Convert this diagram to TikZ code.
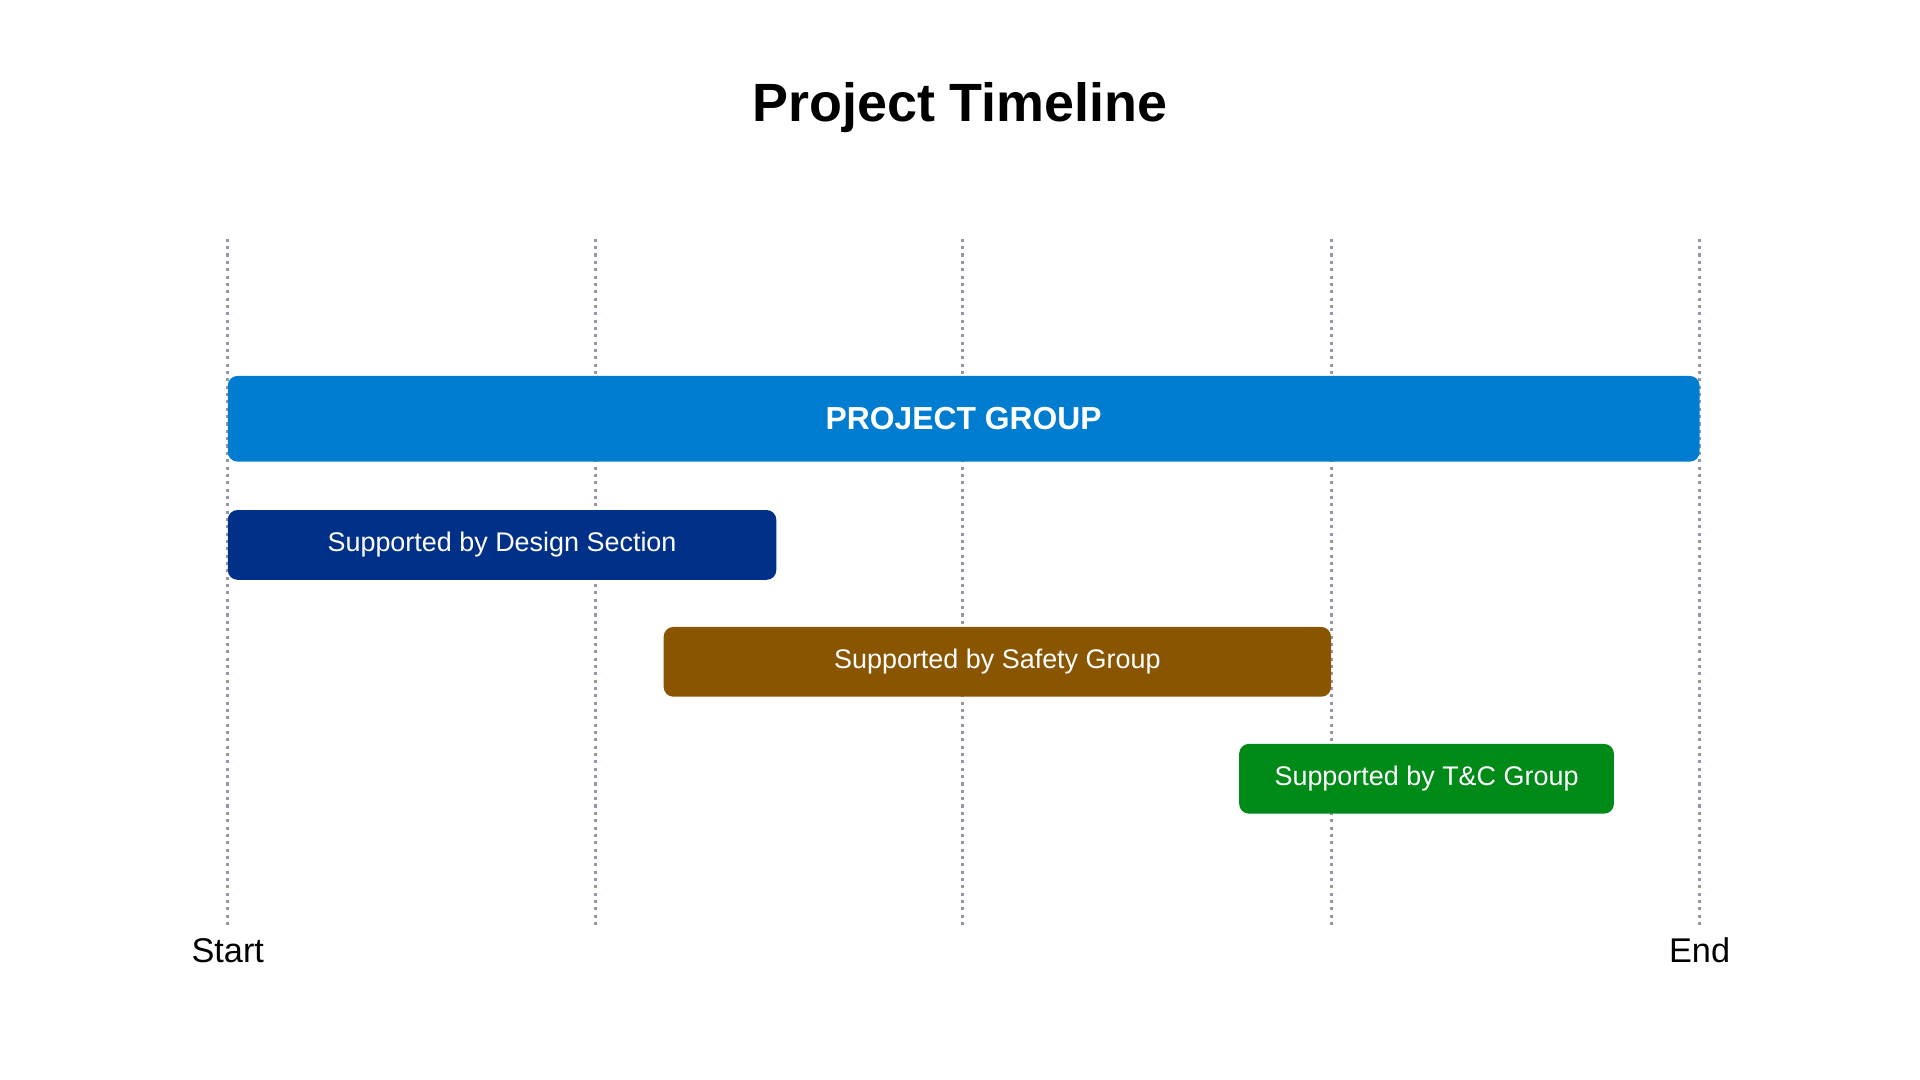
\documentclass[tikz,border=0pt]{standalone}
\usepackage{fontspec}
\setmainfont{Liberation Sans}
\usetikzlibrary{positioning}
\definecolor{gridgray}{RGB}{150,150,170}
\definecolor{projblue}{RGB}{0,125,208}
\definecolor{designblue}{RGB}{0,48,135}
\definecolor{safetybrown}{RGB}{138,85,0}
\definecolor{tcgreen}{RGB}{0,138,23}
\tikzset{
  bar/.style={rounded corners=8pt, inner sep=0pt, text=white, font=\fontsize{22}{26}\selectfont},
  tick/.style={gridgray, line width=2.5pt, dash pattern=on 2.5pt off 3.5pt},
  endlabel/.style={font=\fontsize{28}{32}\selectfont}
}
\begin{document}
\begin{tikzpicture}[x=1pt,y=-1pt]
\useasboundingbox (0,0) rectangle (1568,882);
\node (title) at (784,88) {\fontsize{44}{50}\selectfont\bfseries Project Timeline};
% grid lines
\foreach \x in {186,486,786,1087,1388}
  \draw[tick] (\x,195) -- (\x,758);
% bars
\node[bar, fill=projblue, minimum width=1202pt, minimum height=70pt, font=\fontsize{26}{30}\selectfont\bfseries] (project) at (787,342) {PROJECT GROUP};
\node[bar, fill=designblue, minimum width=448pt, minimum height=57pt] (design) at (410,445) {Supported by Design Section};
\node[bar, fill=safetybrown, minimum width=545pt, minimum height=57pt] (safety) at (814.5,540.5) {Supported by Safety Group};
\node[bar, fill=tcgreen, minimum width=306pt, minimum height=57pt] (tc) at (1165,636) {Supported by T\&C Group};
% axis ends
\node[endlabel] (start) at (186,776) {Start};
\node[endlabel] (end) at (1388,776) {End};
\end{tikzpicture}
\end{document}
